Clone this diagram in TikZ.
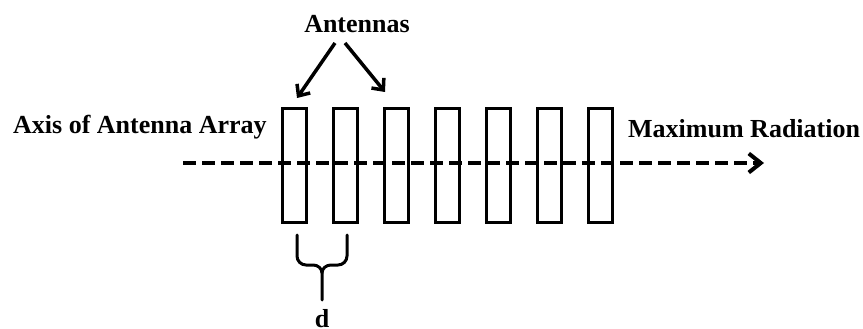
\documentclass[tikz,border=0pt]{standalone}
\usepackage{fontspec}
\setmainfont{Liberation Serif}
\usetikzlibrary{arrows.meta}
\begin{document}
\begin{tikzpicture}[x=1pt,y=-1pt,
  antenna/.style={draw,line width=3pt,minimum width=24pt,minimum height=114pt,inner sep=0pt},
  lbl/.style={font=\fontsize{26}{30}\selectfont\bfseries,inner sep=0pt},
  pointer/.style={line width=3.5pt,-{Straight Barb[length=9pt,width=16pt,line width=3.5pt]}}]
\useasboundingbox (0,0) rectangle (863,329);
% axis
\coordinate (axs) at (183,163);
\coordinate (axe) at (764,163);
\draw[line width=4pt,dash pattern=on 13pt off 6pt,-{Straight Barb[length=12pt,width=19pt,line width=4pt]}] (axs) -- (axe);
% antennas
\foreach \i in {1,...,7}
  \node[antenna] (a\i) at ({294+51*(\i-1)},165.5) {};
% labels
\node[lbl,anchor=base] (ant) at (357,33) {Antennas};
\node[lbl,anchor=base west] (axis) at (13,133) {Axis of Antenna Array};
\node[lbl,anchor=base west] (maxr) at (628,137) {Maximum Radiation};
\node[lbl,anchor=base] (d) at (322,327) {d};
% pointers
\coordinate (p1) at (297,98);
\coordinate (p2) at (385,92);
\draw[pointer] (335,43) -- (p1);
\draw[pointer] (345,43) -- (p2);
% brace
\draw[line width=3pt,line cap=round,line join=round]
  (297,235) -- (297,256) to[out=-90,in=180] (306,265) -- (313,265) to[out=0,in=90] (322,273) -- (322,300);
\draw[line width=3pt,line cap=round,line join=round]
  (347,235) -- (347,256) to[out=-90,in=0] (338,265) -- (331,265) to[out=180,in=90] (322,273);
\end{tikzpicture}
\end{document}
